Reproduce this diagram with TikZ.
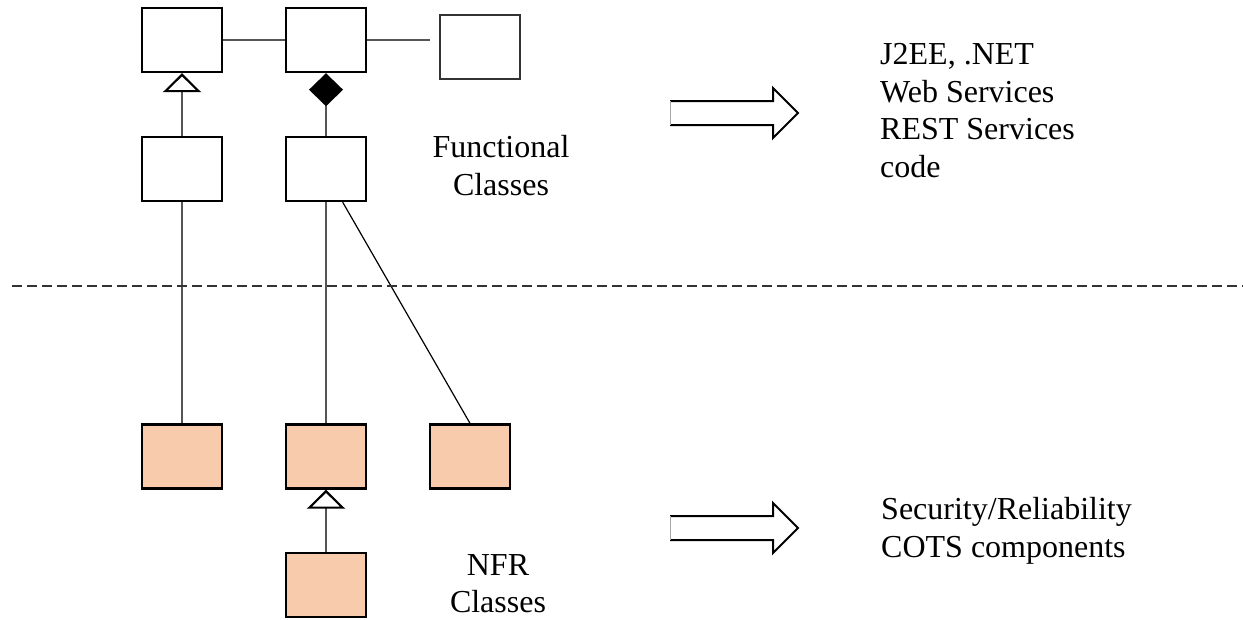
\documentclass[tikz,border=0pt]{standalone}
\usepackage{fontspec}
\setmainfont{Liberation Serif}
\usepackage{xcolor}
\usepackage{tikz}
\usetikzlibrary{arrows.meta}
\definecolor{peach}{HTML}{F8CBAD}
\definecolor{wire}{HTML}{555555}
\definecolor{edge}{HTML}{333333}
\tikzset{
  cls/.style={draw=black, line width=2.4pt, minimum width=80, minimum height=64, inner sep=0pt},
  nfr/.style={cls, fill=peach},
  link/.style={draw=wire, line width=1.6pt},
  gen/.style={link, -{Triangle[open, length=19pt, width=38pt, line width=2.2pt, color=black]}},
  comp/.style={link, -{Diamond[length=33pt, width=34pt, color=black, fill=black]}},
  fat/.style={draw=black, line width=2pt, line join=miter},
  lab/.style={font=\fontsize{32}{37.5}\selectfont, inner sep=0pt},
}

\begin{document}
\begin{tikzpicture}[x=1pt, y=-1pt]
  \useasboundingbox (0,0) rectangle (1243,619);
  \node[cls] (f1) at (182,40) {};
  \node[cls] (f2) at (326,40) {};
  \node[cls, line width=1.6pt, draw=edge] (f3) at (480,47) {};
  \node[cls] (f4) at (182,169) {};
  \node[cls] (f5) at (326,169) {};
  \coordinate (loose) at (430,40);
  \node[nfr] (n1) at (182,456.5) {};
  \node[nfr] (n2) at (326,456.5) {};
  \node[nfr] (n3) at (470,456.5) {};
  \node[nfr] (n4) at (326,585) {};

  \draw[link] (f1) -- (f2);
  \draw[link] (f2) -- (loose);
  \draw[gen] (f4) -- (f1);
  \draw[comp] (f5) -- (f2);
  \draw[link] (f4) -- (n1);
  \draw[link] (f5) -- (n2);
  \draw[draw=black, line width=1.2pt] ([xshift=16.7]f5.south) -- (n3.north);
  \draw[gen] (n4) -- (n2);

  \draw[draw=edge, line width=1.4pt, dash pattern=on 10pt off 5pt] (12,286) -- (1243,286);

  \foreach \y in {113,528} {
    \draw[fat] (670,\y+12) -- (773,\y+12) -- (773,\y+25) -- (798,\y) -- (773,\y-25) -- (773,\y-12) -- (670,\y-12);
    \draw[draw=gray!70, line width=1pt] (670,\y-12) -- (670,\y+12);
  }

  \node[lab, align=center, anchor=base] (ftxt) at (501,195) {Functional\\Classes};
  \node[lab, align=center, anchor=base] (ntxt) at (498,612.5) {NFR\\Classes};
  \node[lab, align=left, anchor=base west] (ttxt) at (880,177) {J2EE, .NET\\Web Services\\REST Services\\code};
  \node[lab, align=left, anchor=base west] (btxt) at (881,557) {Security/Reliability\\COTS components};
\end{tikzpicture}
\end{document}
